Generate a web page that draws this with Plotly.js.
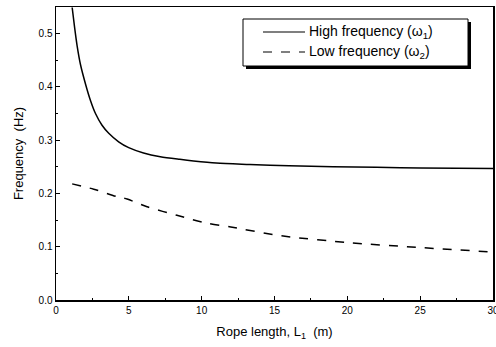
<!DOCTYPE html>
<html>
<head>
<meta charset="utf-8">
<script src="https://cdn.plot.ly/plotly-3.0.1.min.js"></script>
<style>html,body{margin:0;padding:0;background:#fff;}#chart{width:496px;height:347px;}</style>
</head>
<body>
<div id="chart"></div>
<script>
const lengthHigh = [1.11, 1.27, 1.45, 1.68, 2.02, 2.36, 2.71, 3.16, 3.62, 4.3, 4.99, 6.01, 7.16, 8.5, 9.44, 11, 13.3, 16, 19, 22, 25, 30];
const freqHigh   = [0.549, 0.513, 0.477, 0.442, 0.406, 0.375, 0.350, 0.328, 0.313, 0.297, 0.286, 0.276, 0.269, 0.264, 0.261, 0.257, 0.2545, 0.252, 0.250, 0.249, 0.248, 0.247];
const lengthLow  = [1.11, 2.59, 4.19, 4.88, 6.25, 8.3, 10.4, 12, 15.6, 20.2, 24.7, 30];
const freqLow    = [0.218, 0.208, 0.194, 0.1895, 0.175, 0.159, 0.144, 0.137, 0.120, 0.1075, 0.099, 0.090];
const xTicks = [0, 5, 10, 15, 20, 25, 30];
const yTicks = [0.0, 0.1, 0.2, 0.3, 0.4, 0.5];
const seriesNames = ['High frequency (ω<sub>1</sub>)', 'Low frequency (ω<sub>2</sub>)'];
const seriesDash = ['solid', 'dash'];

const W = 496, H = 347, M = {l: 56, r: 3, t: 7, b: 47};
const pw = W - M.l - M.r, ph = H - M.t - M.b;
const px = v => (v - M.l) / pw;
const py = v => (H - M.b - v) / ph;
const font = {family: 'Liberation Sans, Arial, sans-serif', color: '#000'};

const data = [
  {x: lengthHigh, y: freqHigh, mode: 'lines', name: seriesNames[0],
   line: {color: '#000', width: 1.5, dash: seriesDash[0], shape: 'spline', smoothing: 0.8}},
  {x: lengthLow, y: freqLow, mode: 'lines', name: seriesNames[1],
   line: {color: '#000', width: 1.5, dash: seriesDash[1], shape: 'spline', smoothing: 0.8}}
];

// manual legend box with drop shadow
const box = {x0: 243, x1: 468, y0: 19, y1: 66};
const shapes = [
  {type: 'rect', xref: 'paper', yref: 'paper', layer: 'above',
   x0: px(box.x0 + 3), x1: px(box.x1 + 3), y0: py(box.y1 + 3), y1: py(box.y0 + 3),
   fillcolor: '#000', line: {width: 0}},
  {type: 'rect', xref: 'paper', yref: 'paper', layer: 'above',
   x0: px(box.x0), x1: px(box.x1), y0: py(box.y1), y1: py(box.y0),
   fillcolor: '#fff', line: {color: '#000', width: 1}}
];
const annotations = [];
const entryY = [32, 52];
seriesNames.forEach((n, i) => {
  shapes.push({type: 'line', xref: 'paper', yref: 'paper', layer: 'above',
    x0: px(263), x1: px(305), y0: py(entryY[i]), y1: py(entryY[i]),
    line: {color: '#000', width: 1.2, dash: seriesDash[i]}});
  annotations.push({xref: 'paper', yref: 'paper', x: px(307), y: py(entryY[i]),
    xanchor: 'left', yanchor: 'middle', showarrow: false, text: n,
    font: Object.assign({size: 14}, font)});
});

const axisCommon = {
  showgrid: false, zeroline: false, showline: true, linecolor: '#000', linewidth: 1.5,
  mirror: true, ticks: 'inside', ticklen: 4, tickcolor: '#000', tickwidth: 1,
  ticklabeloverflow: 'allow',
  tickfont: Object.assign({size: 10}, font)
};
const layout = {
  width: W, height: H, margin: M,
  paper_bgcolor: '#fff', plot_bgcolor: '#fff',
  showlegend: false, shapes: shapes, annotations: annotations,
  xaxis: Object.assign({}, axisCommon, {
    range: [0, 30], tickvals: xTicks, ticktext: xTicks.map(String),
    minor: {ticks: 'inside', ticklen: 2, dtick: 2.5, tickcolor: '#000'},
    title: {text: 'Rope length, L<sub>1</sub>  (m)', standoff: 12, font: Object.assign({size: 13}, font)}
  }),
  yaxis: Object.assign({}, axisCommon, {
    range: [0, 0.55], tickvals: yTicks, ticktext: yTicks.map(v => v.toFixed(1)),
    minor: {ticks: 'inside', ticklen: 2, dtick: 0.05, tickcolor: '#000'},
    title: {text: 'Frequency  (Hz)', standoff: 12, font: Object.assign({size: 13}, font)}
  })
};
Plotly.newPlot('chart', data, layout, {staticPlot: true, displayModeBar: false});
</script>
</body>
</html>
